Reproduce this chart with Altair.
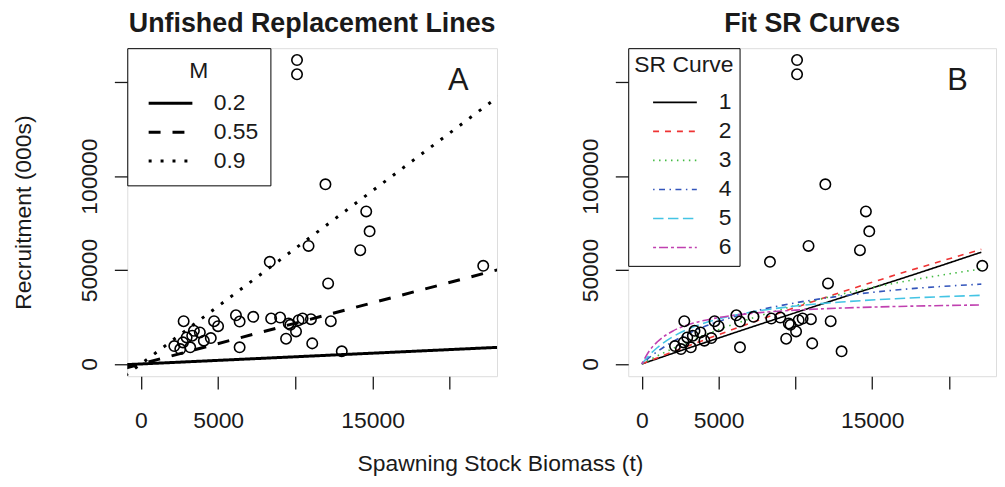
import altair as alt
import pandas as pd

# ---- observed stock-recruitment points (SSB in t, recruitment in 000s) ----
ssb = [10107, 10107, 11948, 14588, 14807, 10854, 14201, 8343, 22164, 12122,
       2768, 4738, 4996, 6154, 6392, 7274, 8433, 3431, 3817, 2961, 2723, 4075, 4526, 2163, 2549, 3193, 3322, 6392,
       9013, 9568, 9677, 10212, 10468, 11009, 12296, 10043, 9399, 11093, 13005]
rec = [161800, 154200, 95640, 81190, 70600, 62820, 60550, 54360, 52240, 42870,
       22760, 22760, 20110, 25930, 22600, 25090, 24190, 17680, 16780, 14130, 11490, 12390, 13760, 9530, 7940, 8840, 15030, 8840,
       24720, 21540, 20850, 23290, 24190, 23820, 22760, 17310, 13440, 10960, 6720]

# ---- panel A: unfished replacement lines ----
repl_M = ["0.2", "0.55", "0.9"]
repl_ssb = [-1000, 24000]
repl_rec_02 = [-380, 9190]
repl_rec_055 = [-2170, 52100]
repl_rec_09 = [-6150, 147600]

# ---- panel B: fitted SR curves ----
sr_names = ["1", "2", "3", "4", "5", "6"]
sr_ssb = [0, 500, 1000, 2000, 3500, 5000, 7500, 10000, 13000, 16500, 22100]
sr1 = [0, 1400, 2800, 5600, 9700, 13800, 20600, 27300, 35300, 44400, 59500]
sr2 = [0, 1620, 3220, 6390, 11060, 15610, 22980, 30080, 38260, 47350, 61000]
sr3 = [0, 2170, 4240, 8160, 13490, 18270, 25200, 31110, 37150, 43050, 50600]
sr4 = [0, 3490, 6580, 11810, 17930, 22620, 28390, 32540, 36210, 39340, 42500]
sr5 = [0, 4800, 8640, 14400, 20150, 23980, 28140, 30820, 32990, 34720, 36520]
sr6 = [0, 7070, 11710, 17440, 22070, 24690, 27200, 28660, 29760, 30590, 31420]
sr_colors = ["#000000", "#EE3333", "#44BB44", "#3355BB", "#44C4E4", "#C040B0"]

panel_tags = ["A", "B"]
tag_ssb = 20550
tag_rec = 150700

x_ticks = [0, 5000, 10000, 15000, 20000]
y_ticks = [0, 50000, 100000, 150000]

FONT = "Liberation Sans"
INK = "#1a1a1a"

obs = pd.DataFrame({"ssb": ssb, "rec": rec})
repl = pd.DataFrame({
    "ssb": repl_ssb * 3,
    "rec": repl_rec_02 + repl_rec_055 + repl_rec_09,
    "M": [m for m in repl_M for _ in repl_ssb],
})
sr_vals = [sr1, sr2, sr3, sr4, sr5, sr6]
sr = pd.DataFrame({
    "ssb": sr_ssb * len(sr_names),
    "rec": [v for s in sr_vals for v in s],
    "curve": [n for n in sr_names for _ in sr_ssb],
})

xs = alt.Scale(domain=[-882, 23057], nice=False, zero=False)
ys = alt.Scale(domain=[-6508, 168095], nice=False, zero=False)


def x_axis(with_title):
    kw = dict(values=x_ticks, format="d",
              labelExpr="(datum.value == 10000 || datum.value == 20000) ? '' : datum.label",
              grid=False, domain=False, tickSize=13, tickWidth=1.3, tickColor=INK,
              labelFont=FONT, labelFontSize=23, labelColor=INK, labelPadding=21,
              labelOverlap=False, labelFlush=False)
    if with_title:
        kw.update(title="Spawning Stock Biomass (t)", titleFont=FONT, titleFontSize=23,
                  titleFontWeight="normal", titleColor=INK, titleX=375, titleY=88,
                  titleAlign="center", titleBaseline="middle", titleAngle=0)
    else:
        kw.update(title=None)
    return alt.Axis(**kw)


def y_axis(with_title):
    kw = dict(values=y_ticks, format="d",
              labelExpr="datum.value == 150000 ? '' : datum.label",
              grid=False, domain=False, tickSize=13, tickWidth=1.3, tickColor=INK,
              labelFont=FONT, labelFontSize=23, labelColor=INK, labelPadding=13,
              labelAngle=270, labelAlign="center", labelBaseline="bottom",
              labelOverlap=False, labelFlush=False)
    if with_title:
        kw.update(title="Recruitment (000s)", titleFont=FONT, titleFontSize=23,
                  titleFontWeight="normal", titleColor=INK, titleX=-104, titleY=165,
                  titleAngle=270, titleAlign="center", titleBaseline="middle")
    else:
        kw.update(title=None)
    return alt.Axis(**kw)


def points(first):
    return alt.Chart(obs).mark_point(shape="circle", filled=False, size=110,
                                     strokeWidth=1.6, color="black", opacity=1).encode(
        x=alt.X("ssb:Q", scale=xs, axis=x_axis(first)),
        y=alt.Y("rec:Q", scale=ys, axis=y_axis(first)),
    )


def tag(letter):
    return alt.Chart(pd.DataFrame({"ssb": [tag_ssb], "rec": [tag_rec], "t": [letter]})).mark_text(
        font=FONT, fontSize=31, color=INK, align="center", baseline="middle"
    ).encode(x=alt.X("ssb:Q", scale=xs), y=alt.Y("rec:Q", scale=ys), text="t:N")


legend_common = dict(orient="none", legendX=0, legendY=0, fillColor="white",
                     strokeColor="black", symbolType="stroke", symbolSize=1936,
                     clipHeight=23,
                     labelFont=FONT, labelFontSize=23, labelColor=INK,
                     titleFont=FONT, titleFontSize=23, titleFontWeight="normal",
                     titleColor=INK, titleAnchor="middle", titleAlign="center",
                     direction="vertical")

lines_a = alt.Chart(repl).mark_line(strokeWidth=3, color="black", clip=True).encode(
    x=alt.X("ssb:Q", scale=xs),
    y=alt.Y("rec:Q", scale=ys),
    detail="M:N",
    strokeDash=alt.StrokeDash(
        "M:N",
        scale=alt.Scale(domain=repl_M, range=[[1, 0], [12, 12], [3, 9]]),
        legend=alt.Legend(title="M", padding=12, symbolOffset=8, labelOffset=20,
                          titlePadding=9, rowPadding=5, symbolStrokeWidth=3,
                          symbolStrokeColor="black", **legend_common),
    ),
)

panel_a = alt.layer(lines_a, points(True), tag(panel_tags[0])).properties(
    width=372, height=330,
    title=alt.TitleParams("Unfished Replacement Lines", font=FONT, fontSize=27,
                          fontWeight="bold", color=INK, anchor="middle",
                          baseline="bottom", offset=-17),
)

sr_legend = alt.Legend(title="SR Curve", padding=6, symbolOffset=15, labelOffset=21,
                       titlePadding=14, rowPadding=5.2, symbolStrokeWidth=1.6,
                       **legend_common)
lines_b = alt.Chart(sr).mark_line(strokeWidth=1.6, interpolate="monotone", clip=True).encode(
    x=alt.X("ssb:Q", scale=xs),
    y=alt.Y("rec:Q", scale=ys),
    color=alt.Color("curve:N", scale=alt.Scale(domain=sr_names, range=sr_colors), legend=sr_legend),
    strokeDash=alt.StrokeDash(
        "curve:N",
        scale=alt.Scale(domain=sr_names,
                        range=[[1, 0], [6, 6], [1.5, 4.5], [1.5, 4.5, 6, 4.5], [10.5, 4.5], [3, 3, 9, 3]]),
        legend=sr_legend,
    ),
)

panel_b = alt.layer(lines_b, points(False), tag(panel_tags[1])).properties(
    width=370, height=330,
    title=alt.TitleParams("Fit SR Curves", font=FONT, fontSize=27,
                          fontWeight="bold", color=INK, anchor="middle",
                          baseline="bottom", offset=-17),
)

chart = alt.hconcat(panel_a, panel_b, spacing=132, bounds="flush").resolve_scale(
    strokeDash="independent", color="independent", x="independent", y="independent"
).resolve_legend(strokeDash="independent", color="independent").properties(
    padding={"left": 4, "top": 0, "right": 0, "bottom": 0}
).configure_view(stroke="black", strokeWidth=1.5).configure(background="white")

chart.save("out.html", embed_options={"renderer": "svg", "actions": False})
